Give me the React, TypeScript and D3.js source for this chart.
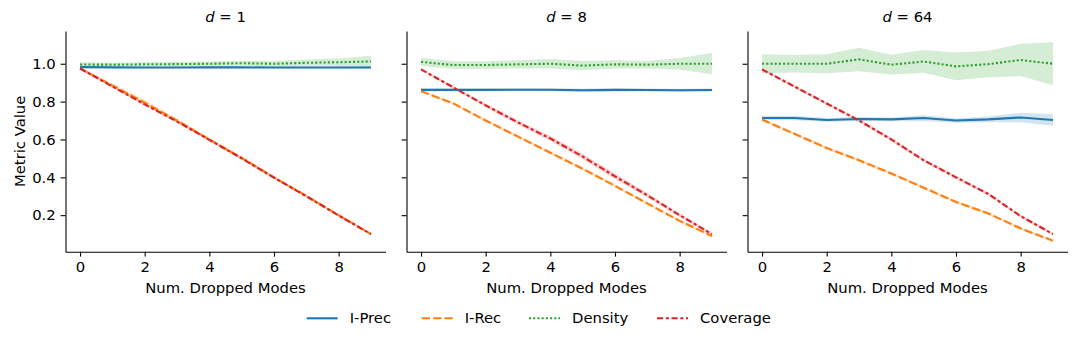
import { useRef, useEffect } from "react";
import * as d3 from "d3";

const W = 1079;
const H = 343;
const margin = { top: 31, bottom: 91.3 };
const panelLeft = [65.5, 406.5, 747.5];
const panelWidth = 320;
const FONT = "DejaVu Sans";
const FS = 14.8;

const modes = [0, 1, 2, 3, 4, 5, 6, 7, 8, 9];
const xTicks = [0, 2, 4, 6, 8];
const yTicks = [0.2, 0.4, 0.6, 0.8, 1.0];
const panelDims = ["1", "8", "64"];
const seriesNames = ["I-Prec", "I-Rec", "Density", "Coverage"];
const seriesColors = ["#1f77b4", "#ff7f0e", "#2ca02c", "#d62728"];
const seriesDashes = ["", "8.3,3.1", "2.1,2.1", "6.2,2.6,3.1,2.6"];

// d = 1
const precD1 = [0.982, 0.981, 0.98, 0.98, 0.981, 0.981, 0.98, 0.98, 0.98, 0.98];
const precD1Ci = [0.005, 0.004, 0.004, 0.004, 0.004, 0.004, 0.004, 0.004, 0.005, 0.005];
const recD1 = [0.975, 0.885, 0.795, 0.7, 0.6, 0.503, 0.4, 0.302, 0.2, 0.1];
const recD1Ci = [0.006, 0.01, 0.015, 0.01, 0.008, 0.008, 0.007, 0.007, 0.006, 0.005];
const densD1 = [0.996, 0.995, 0.997, 0.998, 1.0, 1.003, 1.0, 1.005, 1.008, 1.012];
const densD1Ci = [0.012, 0.01, 0.011, 0.011, 0.012, 0.013, 0.014, 0.018, 0.02, 0.03];
const covD1 = [0.975, 0.88, 0.785, 0.695, 0.598, 0.5, 0.398, 0.3, 0.198, 0.1];
const covD1Ci = [0.005, 0.006, 0.007, 0.007, 0.007, 0.007, 0.006, 0.006, 0.005, 0.005];

// d = 8
const precD8 = [0.862, 0.862, 0.862, 0.863, 0.863, 0.86, 0.862, 0.861, 0.86, 0.861];
const precD8Ci = [0.008, 0.007, 0.007, 0.008, 0.008, 0.009, 0.008, 0.008, 0.008, 0.008];
const recD8 = [0.855, 0.79, 0.7, 0.615, 0.53, 0.445, 0.355, 0.262, 0.17, 0.09];
const recD8Ci = [0.006, 0.007, 0.008, 0.008, 0.008, 0.008, 0.008, 0.008, 0.008, 0.007];
const densD8 = [1.01, 0.993, 0.993, 0.997, 1.0, 0.99, 0.997, 0.995, 1.0, 1.0];
const densD8Ci = [0.022, 0.02, 0.02, 0.022, 0.025, 0.025, 0.022, 0.02, 0.03, 0.057];
const covD8 = [0.97, 0.875, 0.78, 0.69, 0.605, 0.51, 0.405, 0.305, 0.2, 0.1];
const covD8Ci = [0.006, 0.008, 0.01, 0.012, 0.013, 0.015, 0.015, 0.012, 0.01, 0.008];

// d = 64
const precD64 = [0.713, 0.713, 0.703, 0.708, 0.706, 0.713, 0.7, 0.706, 0.716, 0.703];
const precD64Ci = [0.012, 0.012, 0.01, 0.01, 0.01, 0.015, 0.012, 0.015, 0.025, 0.03];
const recD64 = [0.705, 0.63, 0.555, 0.49, 0.42, 0.345, 0.27, 0.209, 0.13, 0.065];
const recD64Ci = [0.007, 0.008, 0.008, 0.008, 0.008, 0.008, 0.008, 0.008, 0.008, 0.007];
const densD64 = [1.0, 1.0, 1.0, 1.023, 0.995, 1.012, 0.986, 0.998, 1.02, 1.0];
const densD64Ci = [0.05, 0.046, 0.05, 0.062, 0.052, 0.06, 0.073, 0.07, 0.085, 0.113];
const covD64 = [0.97, 0.88, 0.79, 0.7, 0.6, 0.49, 0.4, 0.312, 0.195, 0.1];
const covD64Ci = [0.007, 0.008, 0.008, 0.009, 0.009, 0.009, 0.009, 0.008, 0.008, 0.007];

const panels = [
  [[precD1, precD1Ci], [recD1, recD1Ci], [densD1, densD1Ci], [covD1, covD1Ci]],
  [[precD8, precD8Ci], [recD8, recD8Ci], [densD8, densD8Ci], [covD8, covD8Ci]],
  [[precD64, precD64Ci], [recD64, recD64Ci], [densD64, densD64Ci], [covD64, covD64Ci]],
];

const legendX = [306.7, 421.7, 529, 657];

export default function App() {
  const svgRef = useRef<SVGSVGElement>(null);

  useEffect(() => {
    const svg = d3.select(svgRef.current);
    svg.selectAll("*").remove();

    const y = d3.scaleLinear().domain([0.007, 1.173]).range([H - margin.bottom, margin.top]);

    panels.forEach((series, p) => {
      const x = d3
        .scaleLinear()
        .domain([-0.45, 9.45])
        .range([panelLeft[p], panelLeft[p] + panelWidth]);
      const g = svg.append("g");

      // bands first (below all lines)
      series.forEach(([mean, ci], s) => {
        const area = d3
          .area<number>()
          .x((d) => x(d))
          .y0((d, i) => y(mean[i] - ci[i]))
          .y1((d, i) => y(mean[i] + ci[i]));
        g.append("path")
          .attr("d", area(modes))
          .attr("fill", seriesColors[s])
          .attr("fill-opacity", 0.2);
      });

      series.forEach(([mean], s) => {
        const line = d3
          .line<number>()
          .x((d) => x(d))
          .y((d, i) => y(mean[i]));
        g.append("path")
          .attr("d", line(modes))
          .attr("fill", "none")
          .attr("stroke", seriesColors[s])
          .attr("stroke-width", 2.1)
          .attr("stroke-linejoin", "round")
          .attr("stroke-dasharray", seriesDashes[s] || null);
      });

      // x axis
      const xa = g
        .append("g")
        .attr("transform", `translate(0,${H - margin.bottom})`)
        .call(
          d3.axisBottom(x).tickValues(xTicks).tickSizeInner(4.9).tickSizeOuter(0).tickPadding(4.6)
        );
      xa.selectAll("text").attr("font-family", FONT).attr("font-size", FS).attr("fill", "#000");
      xa.selectAll("line, path").attr("stroke", "#000").attr("stroke-width", 1.1);

      // y axis
      const ya = g
        .append("g")
        .attr("transform", `translate(${panelLeft[p]},0)`)
        .call(
          d3
            .axisLeft(y)
            .tickValues(yTicks)
            .tickFormat(p === 0 ? d3.format(".1f") : () => "")
            .tickSizeInner(4.9)
            .tickSizeOuter(0)
            .tickPadding(4.9)
        );
      ya.selectAll("text").attr("font-family", FONT).attr("font-size", FS).attr("fill", "#000");
      ya.selectAll("line, path").attr("stroke", "#000").attr("stroke-width", 1.1);

      // x label
      g.append("text")
        .attr("x", panelLeft[p] + panelWidth / 2)
        .attr("y", 293)
        .attr("text-anchor", "middle")
        .attr("font-family", FONT)
        .attr("font-size", FS)
        .text("Num. Dropped Modes");

      // title
      const t = g
        .append("text")
        .attr("x", panelLeft[p] + panelWidth / 2)
        .attr("y", 21.8)
        .attr("text-anchor", "middle")
        .attr("font-family", FONT)
        .attr("font-size", FS);
      t.append("tspan").attr("font-style", "italic").text("d");
      t.append("tspan").text(` = ${panelDims[p]}`);
    });

    // y label
    svg
      .append("text")
      .attr("transform", `translate(24.5,${(margin.top + H - margin.bottom) / 2}) rotate(-90)`)
      .attr("text-anchor", "middle")
      .attr("font-family", FONT)
      .attr("font-size", FS)
      .text("Metric Value");

    // legend
    const legend = svg.append("g").attr("transform", "translate(0,318.3)");
    seriesNames.forEach((name, s) => {
      legend
        .append("line")
        .attr("x1", legendX[s])
        .attr("x2", legendX[s] + 31)
        .attr("stroke", seriesColors[s])
        .attr("stroke-width", 2.1)
        .attr("stroke-dasharray", seriesDashes[s] || null);
      legend
        .append("text")
        .attr("x", legendX[s] + 43)
        .attr("dy", "0.35em")
        .attr("font-family", FONT)
        .attr("font-size", FS)
        .text(name);
    });
  }, []);

  return (
    <svg
      ref={svgRef}
      width={W}
      height={H}
      style={{ position: "absolute", left: 0, top: 0, background: "#fff" }}
    />
  );
}
